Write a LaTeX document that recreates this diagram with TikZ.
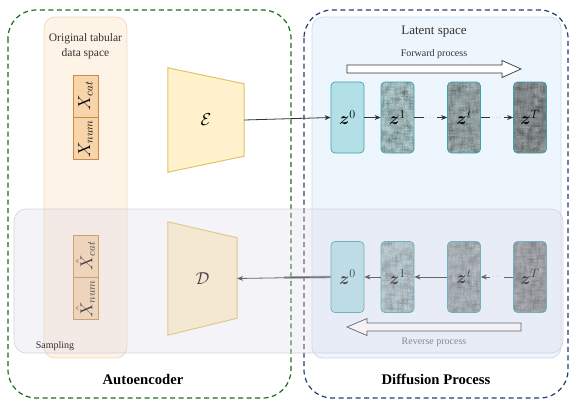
\documentclass[tikz,border=0pt]{standalone}
\usepackage{amsmath,amssymb}
\usepackage{graphicx}
\usepackage{fontspec}
\setmainfont{Liberation Serif}
\usepackage{tikz}
\usetikzlibrary{arrows.meta, positioning, calc}
\definecolor{aegreen}{HTML}{1B6B1B}
\definecolor{dpblue}{HTML}{1F3F73}
\definecolor{tabfill}{HTML}{FDF3E7}
\definecolor{tabborder}{HTML}{F3D8B6}
\definecolor{featfill}{HTML}{F8D4AA}
\definecolor{featborder}{HTML}{CC8A45}
\definecolor{latentfill}{HTML}{EEF6FD}
\definecolor{latentborder}{HTML}{C3DDEE}
\definecolor{trapfill}{HTML}{FFF1CC}
\definecolor{trapborder}{HTML}{E2C26A}
\definecolor{zborder}{HTML}{3DA3AB}
\definecolor{zzero}{HTML}{B2E0E6}
\definecolor{zone}{HTML}{A8CACC}
\definecolor{zmid}{HTML}{92A5A7}
\definecolor{zlast}{HTML}{808889}
\definecolor{sampfill}{HTML}{DCD6E6}
\definecolor{sampborder}{HTML}{D6CFDF}

\tikzset{
  groupbox/.style={rounded corners=28pt, dash pattern=on 5pt off 3.5pt, line width=1.2pt},
  panel/.style={rounded corners=11pt, line width=0.7pt},
  featbox/.style={draw=featborder, fill=featfill, line width=0.8pt, minimum width=25pt,
    minimum height=42pt, inner sep=0pt, font=\fontsize{16}{18}\selectfont},
  zbox/.style={draw=zborder, rounded corners=4pt, line width=0.7pt, minimum width=33pt,
    minimum height=71pt, inner sep=0pt, font=\fontsize{18}{20}\selectfont},
  noisy/.style={path picture={
    \foreach \k in {1,...,#1}{
      \pgfmathsetmacro\g{int(rnd*100)}
      \fill[black!\g, opacity=0.12] ($(path picture bounding box.south west)+(rnd*34pt, rnd*72pt)$) rectangle ++(0.8pt,0.8pt);
    }}},
  trap/.style={draw=trapborder, fill=trapfill, line width=1pt},
  step arrow/.style={-{Stealth[length=6pt,width=5pt]}, line width=0.8pt, black!80},
  dotsgap/.style={fill=latentfill, inner sep=1pt, font=\scriptsize, text=black!55},
  hollow/.style={draw=black!80, fill=white, line width=0.7pt},
  caption/.style={text=black!80, inner sep=1pt}
}

\begin{document}
\begin{tikzpicture}[x=1pt, y=-1pt]
  \useasboundingbox (0,0) rectangle (571,402);
  \pgfmathsetseed{11}

  % ===== group frames =====
  \draw[groupbox, draw=aegreen] (8,10) rectangle (291,398);
  \draw[groupbox, draw=dpblue] (304,10) rectangle (568,398);

  % ===== panels =====
  \draw[panel, draw=tabborder, fill=tabfill] (44,17) rectangle (127,358);
  \draw[panel, draw=latentborder, fill=latentfill] (312,17) rectangle (561,358);

  \node[caption, align=center, font=\fontsize{11.5}{14.5}\selectfont] (tablbl) at (85.5,46) {Original tabular\\data space};
  \node[caption, font=\fontsize{13}{15}\selectfont] (latentlbl) at (434,32) {Latent space};
  \node[caption, font=\fontsize{10}{12}\selectfont] (fwdlbl) at (434,54) {Forward process};

  % ===== tabular features =====
  \node[featbox] (xcat) at (85.5,96) {\rotatebox{90}{$X_{cat}$}};
  \node[featbox, below=0pt of xcat] (xnum) {\rotatebox{90}{$X_{num}$}};
  \node[featbox] (xhcat) at (85.5,256) {\rotatebox{90}{$\hat{X}_{cat}$}};
  \node[featbox, below=0pt of xhcat] (xhnum) {\rotatebox{90}{$\hat{X}_{num}$}};

  % ===== encoder / decoder =====
  \node[minimum width=76pt, minimum height=104pt, inner sep=0pt] (enc) at (206,120) {};
  \draw[trap] (enc.north west) -- ($(enc.north east)+(0,16)$) -- ($(enc.south east)+(0,-16)$) -- (enc.south west) -- cycle;
  \node[font=\fontsize{17}{19}\selectfont] (enclbl) at (enc.center) {$\mathcal{E}$};

  \node[minimum width=69pt, minimum height=113pt, inner sep=0pt] (dec) at (202.5,278.5) {};
  \draw[trap] (dec.north west) -- ($(dec.north east)+(0,16)$) -- ($(dec.south east)+(0,-17)$) -- (dec.south west) -- cycle;
  \node[font=\fontsize{17}{19}\selectfont] (declbl) at (dec.center) {$\mathcal{D}$};

  % ===== latent chain: forward =====
  \node[zbox, fill=zzero] (z0) at (347.5,117.5) {$\boldsymbol{z}^0$};
  \node[zbox, fill=zone, noisy=600] (z1) at (397.5,117.5) {$\boldsymbol{z}^1$};
  \node[zbox, fill=zmid, noisy=600] (zt) at (464,117.5) {$\boldsymbol{z}^t$};
  \node[zbox, fill=zlast, noisy=600] (zT) at (530,117.5) {$\boldsymbol{z}^T$};

  \draw[step arrow] (z0.east) -- (z1.west);
  \draw[step arrow] (z1.east) -- node[dotsgap] {$\cdots$} (zt.west);
  \draw[step arrow] (zt.east) -- node[dotsgap] {$\cdots$} (zT.west);

  % ===== latent chain: reverse =====
  \node[zbox, fill=zzero] (z0b) at (347.5,277) {$\boldsymbol{z}^0$};
  \node[zbox, fill=zone, noisy=600] (z1b) at (397.5,277) {$\boldsymbol{z}^1$};
  \node[zbox, fill=zmid, noisy=600] (ztb) at (464,277) {$\boldsymbol{z}^t$};
  \node[zbox, fill=zlast, noisy=600] (zTb) at (530,277) {$\boldsymbol{z}^T$};

  \draw[step arrow] (z1b.west) -- (z0b.east);
  \draw[step arrow] (ztb.west) -- (z1b.east);
  \draw[step arrow] (zTb.west) -- node[dotsgap] {$\cdots$} (ztb.east);

  % ===== encode / decode links =====
  \draw[step arrow] (enc.east) -- (z0.west);
  \coordinate (declink) at (284,277.5);
  \draw[line width=2.4pt, black!45] (z0b.west) -- (declink);
  \draw[step arrow] (z0b.west) -- (dec.east);

  % ===== process arrows =====
  \coordinate (fwdtail) at (347,69);
  \draw[hollow] ($(fwdtail)+(0,-4)$) -- ++(155,0) -- ++(0,-4.5) -- ($(fwdtail)+(174,0)$)
    -- ($(fwdtail)+(155,8.5)$) -- ++(0,-4.5) -- ($(fwdtail)+(0,4)$) -- cycle;
  \coordinate (revtail) at (521,327);
  \draw[hollow] ($(revtail)+(0,-4)$) -- ++(-154,0) -- ++(0,-4.5) -- ($(revtail)+(-174,0)$)
    -- ($(revtail)+(-154,8.5)$) -- ++(0,-4.5) -- ($(revtail)+(0,4)$) -- cycle;
  \node[caption, text=black!60, font=\fontsize{10}{12}\selectfont] (revlbl) at (434,342) {Reverse process};

  % ===== sampling overlay =====
  \fill[sampfill, opacity=0.3, rounded corners=12pt] (14,209) rectangle (563,353);
  \draw[sampborder, line width=0.6pt, rounded corners=12pt] (14,209) rectangle (563,353);
  \node[caption, font=\fontsize{10}{12}\selectfont] (samplbl) at (55,346) {Sampling};

  % ===== group titles =====
  \node[font=\fontsize{14.7}{17}\selectfont\bfseries] (aelbl) at (143,379) {Autoencoder};
  \node[font=\fontsize{14.7}{17}\selectfont\bfseries] (dplbl) at (436,379) {Diffusion Process};
\end{tikzpicture}
\end{document}
